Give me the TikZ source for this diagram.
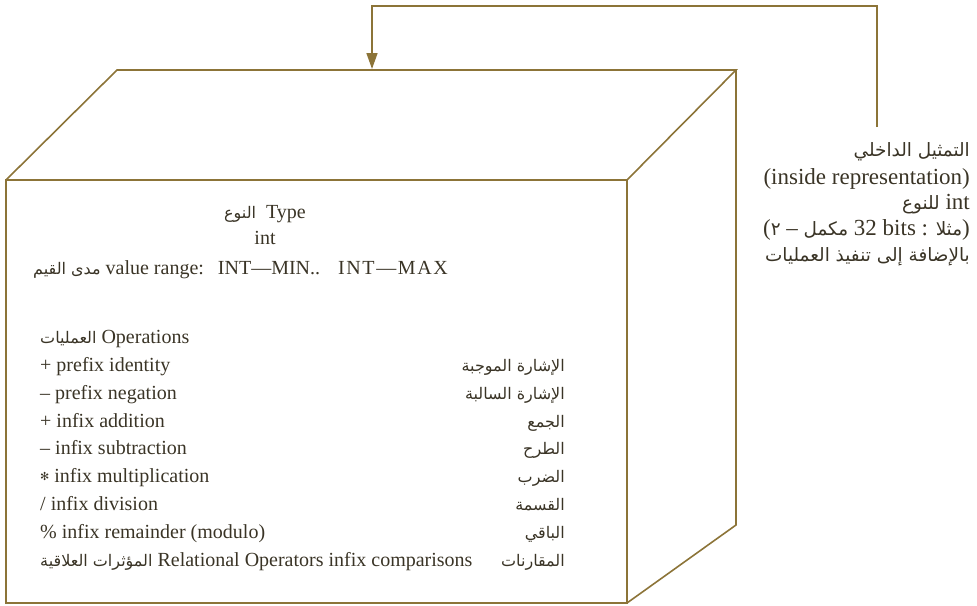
\documentclass[tikz,border=0pt]{standalone}
\usepackage{fontspec}
\setmainfont{Liberation Serif}
\newfontfamily\arfont{DejaVu Sans}[Script=Arabic,Scale=0.8]
\newfontfamily\symfont{DejaVu Sans}
\TeXXeTstate=1
\usetikzlibrary{arrows.meta}
\definecolor{edge}{RGB}{140,116,56}
\definecolor{ink}{RGB}{58,52,38}
% several Arabic words, set right to left
\newcommand\artext[1]{{\arfont\beginR #1\endR}}
% a single Arabic word
\newcommand\arword[1]{{\arfont #1}}
\tikzset{
  cubeline/.style={draw=edge, line width=1.6pt, line join=miter},
  txt/.style={inner sep=0pt, text=ink, font=\fontsize{20}{28}\selectfont},
  optxt/.style={txt, anchor=base west},
  artxt/.style={txt, anchor=base east},
  notetxt/.style={txt, anchor=base east, font=\fontsize{23}{26}\selectfont},
  link/.style={draw=edge, line width=1.6pt, -{Triangle[length=16pt,width=11pt]}},
}
\begin{document}
\begin{tikzpicture}[x=1pt,y=-1pt]
\useasboundingbox (0,0) rectangle (977,605);

% cube corners
\coordinate (ftl) at (6,180);
\coordinate (ftr) at (627,180);
\coordinate (fbl) at (6,603);
\coordinate (fbr) at (627,603);
\coordinate (btl) at (117,70);
\coordinate (btr) at (736,70);
\coordinate (bbr) at (736,525);

% cube faces
\draw[cubeline] (ftl) rectangle (fbr);
\draw[cubeline] (ftl) -- (btl) -- (btr) -- (ftr);
\draw[cubeline] (btr) -- (bbr) -- (fbr);

% header of the type
\node[txt, anchor=base] (type) at (265,218) {\arword{النوع}\ \ Type};
\node[txt, anchor=base] (int) at (265,244) {int};
\node[optxt] (range) at (33,274) {\artext{مدى القيم}\ value range:\hspace{14pt}INT—MIN..\hspace{18pt}{\addfontfeature{LetterSpace=8}INT—MAX}};

% operations, English column
\node[optxt] (ops) at (40,343) {\arword{العمليات}\ Operations};
\node[optxt] (o1) at (40,371) {+ prefix identity};
\node[optxt] (o2) at (40,399) {– prefix negation};
\node[optxt] (o3) at (40,427) {+ infix addition};
\node[optxt] (o4) at (40,454) {– infix subtraction};
\node[optxt] (o5) at (40,482) {\raisebox{2pt}{\symfont\fontsize{11}{11}\selectfont ✻} infix multiplication};
\node[optxt] (o6) at (40,510) {/ infix division};
\node[optxt] (o7) at (40,538) {\% infix remainder (modulo)};
\node[optxt] (o8) at (40,566) {\artext{المؤثرات العلاقية}\ Relational Operators infix comparisons};

% operations, Arabic column
\node[artxt] (a1) at (565,371) {\artext{الإشارة الموجبة}};
\node[artxt] (a2) at (565,399) {\artext{الإشارة السالبة}};
\node[artxt] (a3) at (565,427) {\arword{الجمع}};
\node[artxt] (a4) at (565,454) {\arword{الطرح}};
\node[artxt] (a5) at (565,482) {\arword{الضرب}};
\node[artxt] (a6) at (565,510) {\arword{القسمة}};
\node[artxt] (a7) at (565,538) {\arword{الباقي}};
\node[artxt] (a8) at (565,566) {\arword{المقارنات}};

% note on the internal representation, one node per line
\node[notetxt] (note1) at (970,156) {\artext{التمثيل الداخلي}};
\node[notetxt] (note2) at (970,184) {(inside representation)};
\node[notetxt] (note3) at (970,209) {\arword{للنوع} int};
% right-to-left line, written here in left-to-right order of its words
\node[notetxt] (note4) at (970,235)
  {(\arword{٢} – \arword{مكمل} 32 bits : \arword{مثلا})};
\node[notetxt] (note5) at (970,261) {\artext{بالإضافة إلى تنفيذ العمليات}};

% arrow from the note to the top of the cube
\coordinate (from) at (877,127);
\coordinate (bend) at (372,6);
\coordinate (tip) at (372,69);
\draw[link] (from) |- (bend) -- (tip);
\end{tikzpicture}
\end{document}
